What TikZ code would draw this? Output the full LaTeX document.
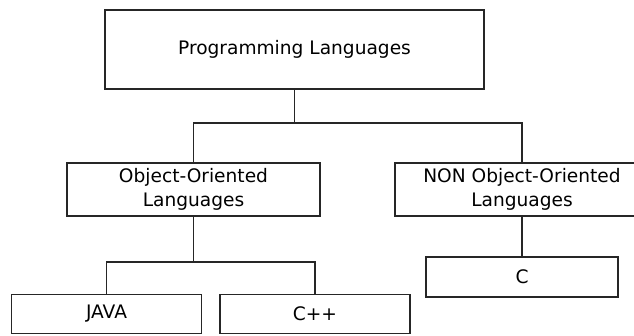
\documentclass[tikz,border=0pt]{standalone}
\usepackage{fontspec}
\setmainfont{DejaVu Sans}
\begin{document}
\begin{tikzpicture}[x=1pt,y=-1pt,
  box/.style={draw=black!85, line width=1.3pt, rectangle, inner sep=0pt, align=center,
    font=\fontsize{18.6}{24}\selectfont},
  conn/.style={draw=black!85, line width=1.3pt}]
\path[use as bounding box] (0,0) rectangle (634,335);
\clip (0,0) rectangle (634,335);
\fill[white] (0,0) rectangle (634,335);
\node[box, minimum width=379, minimum height=79] (top) at (294.5,49.5) {Programming Languages};
\node[box, minimum width=253, minimum height=53] (obj) at (193.5,189.5) {Object-Oriented\\Languages};
\node[box, minimum width=254, minimum height=53] (non) at (522,189.5) {NON Object-Oriented\\Languages};
\node[box, minimum width=192, minimum height=40] (c) at (522,277) {C};
\node[box, minimum width=190, minimum height=39] (java) at (106.5,314) {JAVA};
\node[box, minimum width=190, minimum height=39] (cpp) at (315,314) {C++};
\coordinate (bus1) at (0,123);
\coordinate (bus2) at (0,262);
\draw[conn] (top.south) -- (top.south |- bus1);
\draw[conn] (obj.north) |- (bus1 -| non.north) -- (non.north);
\draw[conn] (obj.south) -- (obj.south |- bus2);
\draw[conn] (java.north) |- (bus2 -| cpp.north) -- (cpp.north);
\draw[conn] (non.south) -- (c.north);
\end{tikzpicture}
\end{document}
